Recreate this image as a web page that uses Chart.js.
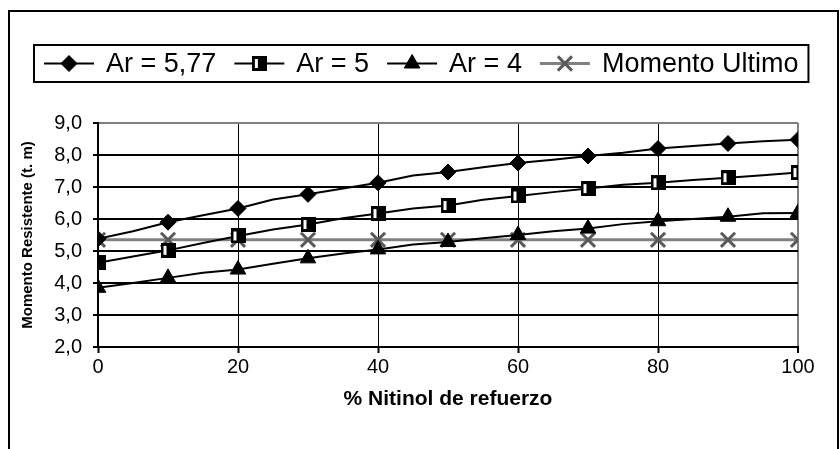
<!DOCTYPE html>
<html>
<head>
<meta charset="utf-8">
<script src="https://cdn.jsdelivr.net/npm/chart.js@4.4.1/dist/chart.umd.min.js"></script>
<style>
  html, body { margin: 0; padding: 0; background: #fff; }
  canvas { display: block; }
</style>
</head>
<body>
<canvas id="chart" width="840" height="449"></canvas>
<script>
// % Nitinol de refuerzo (x positions of the readings)
const nitinolPct = [0, 5, 10, 15, 20, 25, 30, 35, 40, 45, 50, 55, 60, 65, 70, 75, 80, 85, 90, 95, 100];

// Momento resistente (t.m) for each aspect ratio
const ar577 = [5.38, 5.62, 5.90, 6.12, 6.33, 6.61, 6.77, 6.95, 7.13, 7.36, 7.47, 7.62, 7.75, 7.85, 7.97, 8.07, 8.20, 8.28, 8.36, 8.43, 8.48];
const ar5   = [4.63, 4.83, 5.02, 5.25, 5.47, 5.67, 5.83, 6.02, 6.17, 6.33, 6.42, 6.60, 6.72, 6.84, 6.95, 7.07, 7.13, 7.22, 7.29, 7.37, 7.45];
const ar4   = [3.85, 4.00, 4.16, 4.32, 4.42, 4.60, 4.77, 4.92, 5.05, 5.20, 5.28, 5.40, 5.50, 5.62, 5.70, 5.84, 5.93, 6.00, 6.07, 6.18, 6.19];
const momentoUltimo = [5.35, 5.35, 5.35, 5.35, 5.35, 5.35, 5.35, 5.35, 5.35, 5.35, 5.35, 5.35, 5.35, 5.35, 5.35, 5.35, 5.35, 5.35, 5.35, 5.35, 5.35];

const seriesNames = ['Ar = 5,77', 'Ar = 5', 'Ar = 4', 'Momento Ultimo'];

// axis ranges / tick steps
const yMin = 2, yMax = 9, yStep = 1;
const xMin = 0, xMax = 100, xStep = 20;
const markerStep = 10;

const FONT = '"Liberation Sans", Arial, sans-serif';

// square marker with a small white slot
function makeSquareMarker() {
  const c = document.createElement('canvas');
  c.width = 15; c.height = 15;
  const g = c.getContext('2d');
  g.fillStyle = '#000';
  g.fillRect(0, 0, 15, 15);
  g.fillStyle = '#fff';
  g.fillRect(3, 3, 3, 9);
  return c;
}
const squareMarker = makeSquareMarker();

const toPoints = (ys) => nitinolPct.map((x, i) => ({ x: x, y: ys[i] }));
const markerRadius = (r) => (ctx) => (ctx.raw && ctx.raw.x % markerStep === 0 ? r : 0);

const datasets = [
  {
    label: seriesNames[0], data: toPoints(ar577),
    borderColor: '#000', backgroundColor: '#000', borderWidth: 2,
    pointStyle: 'rectRot', pointRadius: markerRadius(8), pointBorderWidth: 1,
    order: 1
  },
  {
    label: seriesNames[1], data: toPoints(ar5),
    borderColor: '#000', backgroundColor: '#000', borderWidth: 2,
    pointStyle: squareMarker, pointRadius: markerRadius(7),
    order: 2
  },
  {
    label: seriesNames[2], data: toPoints(ar4),
    borderColor: '#000', backgroundColor: '#000', borderWidth: 2,
    pointStyle: 'triangle', pointRadius: markerRadius(9), pointBorderWidth: 1,
    order: 3
  },
  {
    label: seriesNames[3], data: toPoints(momentoUltimo),
    borderColor: '#808080', backgroundColor: '#808080', borderWidth: 3,
    pointStyle: 'crossRot', pointRadius: markerRadius(10),
    pointBorderColor: '#5a5a5a', pointBorderWidth: 3,
    order: 4
  }
];

// outer frame and boxed legend
const framePlugin = {
  id: 'frameLegend',
  afterDraw(chart) {
    const ctx = chart.ctx;
    ctx.save();
    ctx.strokeStyle = '#000';
    ctx.lineWidth = 2;
    ctx.strokeRect(9, 11, 829, 460);

    const boxLeft = 34, boxTop = 45, boxH = 37;
    const cy = boxTop + boxH / 2;
    ctx.font = '27px ' + FONT;
    ctx.textBaseline = 'middle';
    ctx.textAlign = 'left';
    let x = boxLeft + 10;
    chart.data.datasets.forEach((ds) => {
      ctx.strokeStyle = ds.borderColor;
      ctx.lineWidth = ds.borderWidth;
      ctx.beginPath();
      ctx.moveTo(x, cy);
      ctx.lineTo(x + 50, cy);
      ctx.stroke();
      const r = ds.pointRadius({ raw: { x: 0 } });
      ctx.fillStyle = ds.pointBorderColor || ds.backgroundColor;
      ctx.strokeStyle = ds.pointBorderColor || ds.borderColor;
      ctx.lineWidth = ds.pointBorderWidth || 1;
      Chart.helpers.drawPoint(ctx, {
        pointStyle: ds.pointStyle, radius: r, rotation: 0,
        borderWidth: ds.pointBorderWidth || 1
      }, x + 25, cy);
      ctx.fillStyle = '#000';
      ctx.fillText(ds.label, x + 62, cy + 1);
      x = x + 62 + ctx.measureText(ds.label).width + 18;
    });
    ctx.strokeStyle = '#000';
    ctx.lineWidth = 2;
    ctx.strokeRect(boxLeft, boxTop, (x - 18 + 10) - boxLeft, boxH);
    ctx.restore();
  }
};

new Chart(document.getElementById('chart'), {
  type: 'line',
  data: { datasets: datasets },
  options: {
    responsive: false,
    animation: false,
    devicePixelRatio: 1,
    layout: { padding: { top: 123, right: 42, bottom: 0, left: 0 } },
    plugins: {
      legend: { display: false },
      tooltip: { enabled: false }
    },
    elements: { line: { tension: 0 } },
    scales: {
      x: {
        type: 'linear',
        min: xMin, max: xMax,
        afterFit(scale) { scale.height = 102; },
        ticks: {
          stepSize: xStep, color: '#000', padding: 2,
          font: { family: FONT, size: 20 },
          maxRotation: 0
        },
        grid: {
          color: (c) => (c.tick && c.tick.value === xMax ? '#808080' : '#000'),
          lineWidth: (c) => (c.tick && c.tick.value === xMax ? 2 : 1),
          tickColor: '#000', tickWidth: 2, tickLength: 6
        },
        border: { color: '#000', width: 2 },
        title: {
          display: true, text: '% Nitinol de refuerzo', color: '#000',
          font: { family: FONT, size: 21, weight: 'bold' },
          padding: { top: 0, bottom: 37 }
        }
      },
      y: {
        min: yMin, max: yMax,
        afterFit(scale) { scale.width = 98; },
        ticks: {
          stepSize: yStep, color: '#000', padding: 11,
          font: { family: FONT, size: 20 },
          callback: (v) => v.toFixed(1).replace('.', ',')
        },
        grid: {
          color: (c) => (c.tick && c.tick.value === yMax ? '#808080' : '#000'),
          lineWidth: 2,
          tickColor: '#000', tickWidth: 2, tickLength: 5
        },
        border: { color: '#000', width: 2 },
        title: {
          display: true, text: 'Momento Resistente (t. m)', color: '#000',
          font: { family: FONT, size: 15, weight: 'bold' },
          padding: { top: 19, bottom: 0 }
        }
      }
    }
  },
  plugins: [framePlugin]
});
</script>
</body>
</html>
